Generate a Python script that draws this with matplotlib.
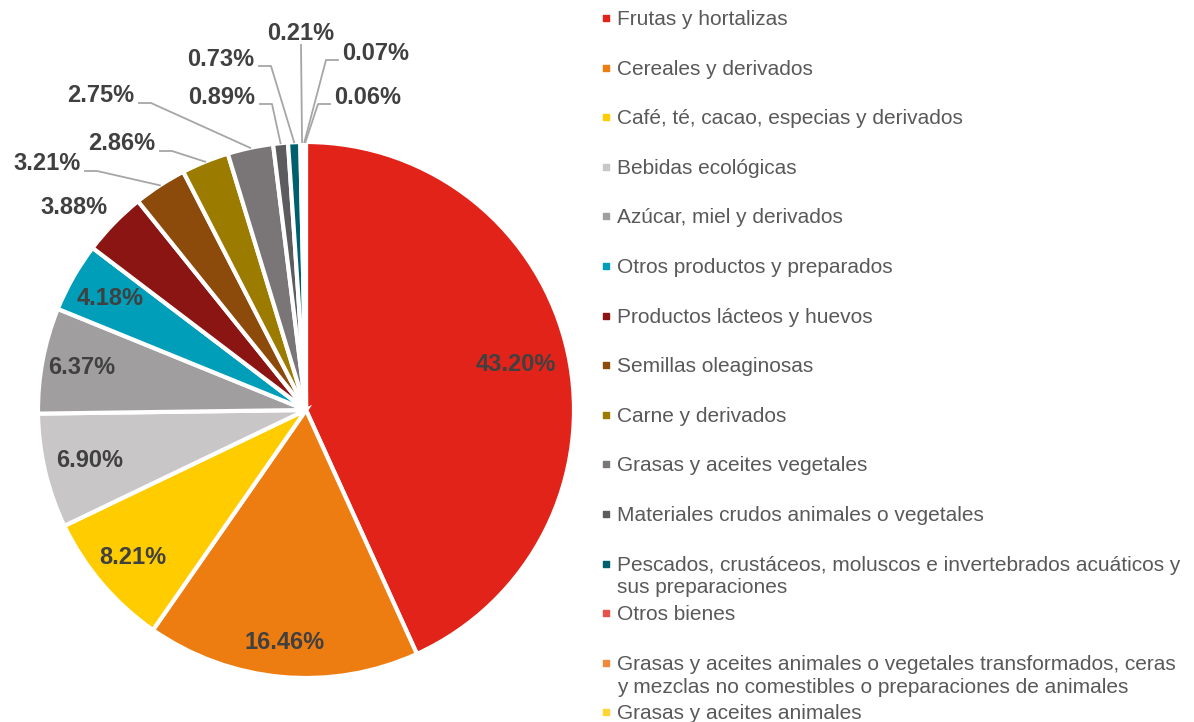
import numpy as np
import matplotlib
matplotlib.use("Agg")
import matplotlib.pyplot as plt

plt.rcParams['font.family'] = ['Liberation Sans', 'DejaVu Sans']

categorias = [
    'Frutas y hortalizas',
    'Cereales y derivados',
    'Café, té, cacao, especias y derivados',
    'Bebidas ecológicas',
    'Azúcar, miel y derivados',
    'Otros productos y preparados',
    'Productos lácteos y huevos',
    'Semillas oleaginosas',
    'Carne y derivados',
    'Grasas y aceites vegetales',
    'Materiales crudos animales o vegetales',
    'Pescados, crustáceos, moluscos e invertebrados acuáticos y\nsus preparaciones',
    'Otros bienes',
    'Grasas y aceites animales o vegetales transformados, ceras\ny mezclas no comestibles o preparaciones de animales',
    'Grasas y aceites animales',
]
porcentajes = [43.20, 16.46, 8.21, 6.90, 6.37, 4.18, 3.88, 3.21, 2.86, 2.75,
               0.89, 0.73, 0.21, 0.07, 0.06]
colores = ['#E2231A', '#EE7D11', '#FFCC00', '#C8C6C7', '#A09E9F', '#009EB9',
           '#8A1512', '#8C4A0B', '#9B7C00', '#7A7678', '#5C5B5E', '#005F6C',
           '#E8504A', '#F08A3A', '#FFD633']

fig = plt.figure(figsize=(11.94, 7.22), dpi=100)
ax = fig.add_axes([38 / 1194, 44 / 722, 536 / 1194, 536 / 722])

wedges, _ = ax.pie(porcentajes, colors=colores, startangle=90, counterclock=False,
                   radius=1, wedgeprops=dict(edgecolor='white', linewidth=3))
ax.set_xlim(-1, 1)
ax.set_ylim(-1, 1)
ax.set_aspect('equal')
ax.axis('off')

# angulo medio de cada sector (grados, convencion matematica)
mid = [(w.theta1 + w.theta2) / 2 for w in wedges]

# etiquetas dentro del pastel
radio_dentro = [0.80, 0.87, 0.85, 0.83, 0.85, 0.84]
for i, r in enumerate(radio_dentro):
    a = np.deg2rad(mid[i])
    ax.text(r * np.cos(a), r * np.sin(a), f'{porcentajes[i]:.2f}%', ha='center', va='center',
            fontsize=17, fontweight='bold', color='#404040')

# etiquetas fuera: posicion del texto (px) y lado de la linea guia
def px(x, y):
    return (x - 306) / 268, (410 - y) / 268

fuera = {
    6: ((74, 207), None),
    7: ((47, 164), 'right'),
    8: ((122, 144), 'right'),
    9: ((101, 96), 'right'),
    10: ((222, 97), 'right'),
    11: ((221, 59), 'right'),
    12: ((301, 33), 'down'),
    13: ((376, 53), 'left'),
    14: ((368, 97), 'left'),
}
for i, (pos, lado) in fuera.items():
    tx, ty = px(*pos)
    ax.text(tx, ty, f'{porcentajes[i]:.2f}%', ha='center', va='center',
            fontsize=17, fontweight='bold', color='#404040', clip_on=False)
    if lado is None:
        continue
    a = np.deg2rad(mid[i])
    ex, ey = np.cos(a) * 1.0, np.sin(a) * 1.0
    if lado == 'down':
        ax.plot([tx, ex], [ty - 12 / 268, ey], color='#A6A6A6', lw=1.3, clip_on=False)
        continue
    s = 1 if lado == 'right' else -1
    x0 = tx + s * 38 / 268
    x1 = x0 + s * 12 / 268
    yl = ty - 7 / 268
    ax.plot([x0, x1, ex], [yl, yl, ey], color='#A6A6A6', lw=1.3, clip_on=False)

# leyenda con separacion fija, como en el original
lax = fig.add_axes([0, 0, 1, 1])
lax.set_xlim(0, 1194)
lax.set_ylim(722, 0)
lax.axis('off')
paso = 49.6
for i, (cat, col) in enumerate(zip(categorias, colores)):
    y = 18 + paso * i
    lax.scatter([606], [y], marker='s', s=22, color=col, clip_on=False)
    lax.text(617, y - 8, cat, ha='left', va='top', fontsize=15, color='#595959',
             linespacing=1.25)

fig.savefig('out.png', dpi=100)
